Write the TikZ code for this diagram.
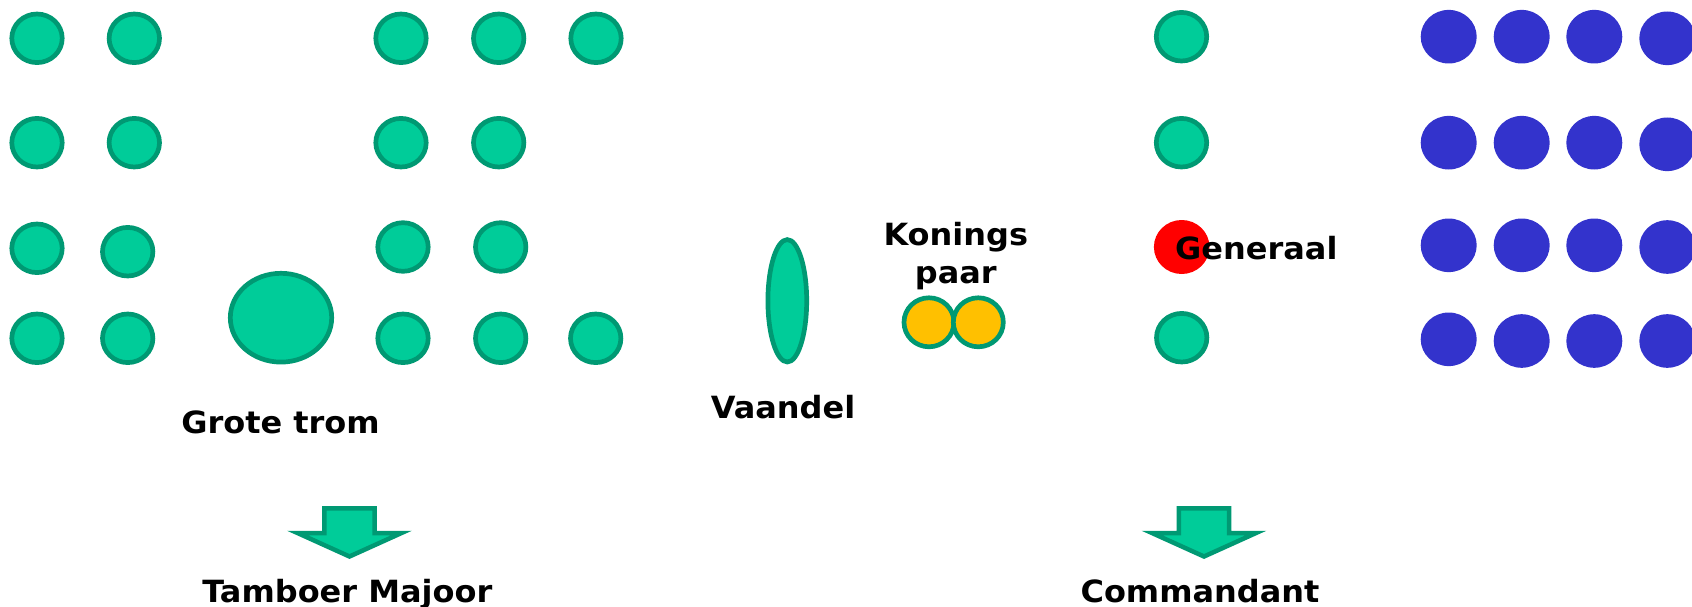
\documentclass[tikz,border=0pt]{standalone}
\usepackage{fontspec}
\setmainfont{DejaVu Sans}[FakeStretch=1.045]
\usetikzlibrary{shapes.geometric}
\definecolor{gfill}{HTML}{00CC99}
\definecolor{gline}{HTML}{009973}
\definecolor{bblue}{HTML}{3333CC}
\definecolor{kyellow}{HTML}{FFC000}
\begin{document}
\begin{tikzpicture}[x=1pt,y=-1pt,
  man/.style={ellipse, draw=gline, fill=gfill, line width=4.7pt, minimum width=50.4pt, minimum height=48.6pt, inner sep=0pt},
  musician/.style={ellipse, fill=bblue, minimum width=56pt, minimum height=53.6pt, inner sep=0pt},
  lbl/.style={font=\bfseries\fontsize{30.6}{38}\selectfont, inner sep=0pt, anchor=base},
  arrowshape/.style={draw=gline, fill=gfill, line width=4.5pt}]
\useasboundingbox (0,0) rectangle (1692,607);
% green band members
\foreach \x/\y/\n in {37/38.3/a1, 134.3/38.3/a2, 401/38.3/a3, 498.7/38.3/a4, 596/38.3/a5,
                      37/142.7/b1, 134.3/142.7/b2, 401/142.7/b3, 498.7/142.7/b4,
                      37/248.3/c1, 127.7/251.7/c2, 403/247/c3, 500.7/247/c4,
                      37/338.3/d1, 127.7/338.3/d2, 403/338.3/d3, 500.7/338.3/d4, 595.7/338.3/d5,
                      1181.5/36.7/r1, 1181.5/142.7/r2, 1181.7/337.7/r4}
  \node[man] (\n) at (\x,\y) {};
% big drum
\node[man, minimum width=101.4pt, minimum height=88.8pt] (drum) at (281,317.7) {};
% flag
\node[man, minimum width=38.8pt, minimum height=122.4pt] (flag) at (787.3,300.8) {};
% royal couple
\node[man, fill=kyellow, minimum width=50pt, minimum height=49pt] (k1) at (929,322.3) {};
\node[man, fill=kyellow, minimum width=50pt, minimum height=49pt] (k2) at (978.3,322.3) {};
% general
\node[ellipse, fill=red, minimum width=55.6pt, minimum height=54pt, inner sep=0pt] (gen) at (1181.7,247) {};
% blue block
\foreach \x/\c in {1448.7/1, 1521.7/2, 1594.3/3}{
  \node[musician] (m1\c) at (\x,36.7) {};
  \node[musician] (m2\c) at (\x,142.7) {};
  \node[musician] (m3\c) at (\x,245.3) {};
}
\node[musician] (m41) at (1448.7,339.3) {};
\node[musician] (m42) at (1521.7,341) {};
\node[musician] (m43) at (1594.3,341) {};
\node[musician] (m14) at (1667.3,38.3) {};
\node[musician] (m24) at (1667.3,144.3) {};
\node[musician] (m34) at (1667.3,247) {};
\node[musician] (m44) at (1667.3,341) {};
% arrows
\draw[arrowshape, shift={(349.5,0)}] (-25.2,508.3) -- (25.2,508.3) -- (25.2,533) -- (52,533) -- (0,556.5) -- (-52,533) -- (-25.2,533) -- cycle;
\draw[arrowshape, shift={(1204,0)}] (-25.2,508.3) -- (25.2,508.3) -- (25.2,533) -- (52,533) -- (0,556.5) -- (-52,533) -- (-25.2,533) -- cycle;
% labels
\node[lbl] (grote) at (280.5,433.5) {Grote trom};
\node[lbl] (vaandel) at (783,418) {Vaandel};
\node[lbl] (konings) at (955.8,245) {Konings};
\node[lbl] (paar) at (955.8,283.3) {paar};
\node[lbl, anchor=base west] (generaal) at (1175,259) {Generaal};
\node[lbl] (tamboer) at (347.3,602.3) {Tamboer Majoor};
\node[lbl] (commandant) at (1200,602.5) {Commandant};
\end{tikzpicture}
\end{document}
